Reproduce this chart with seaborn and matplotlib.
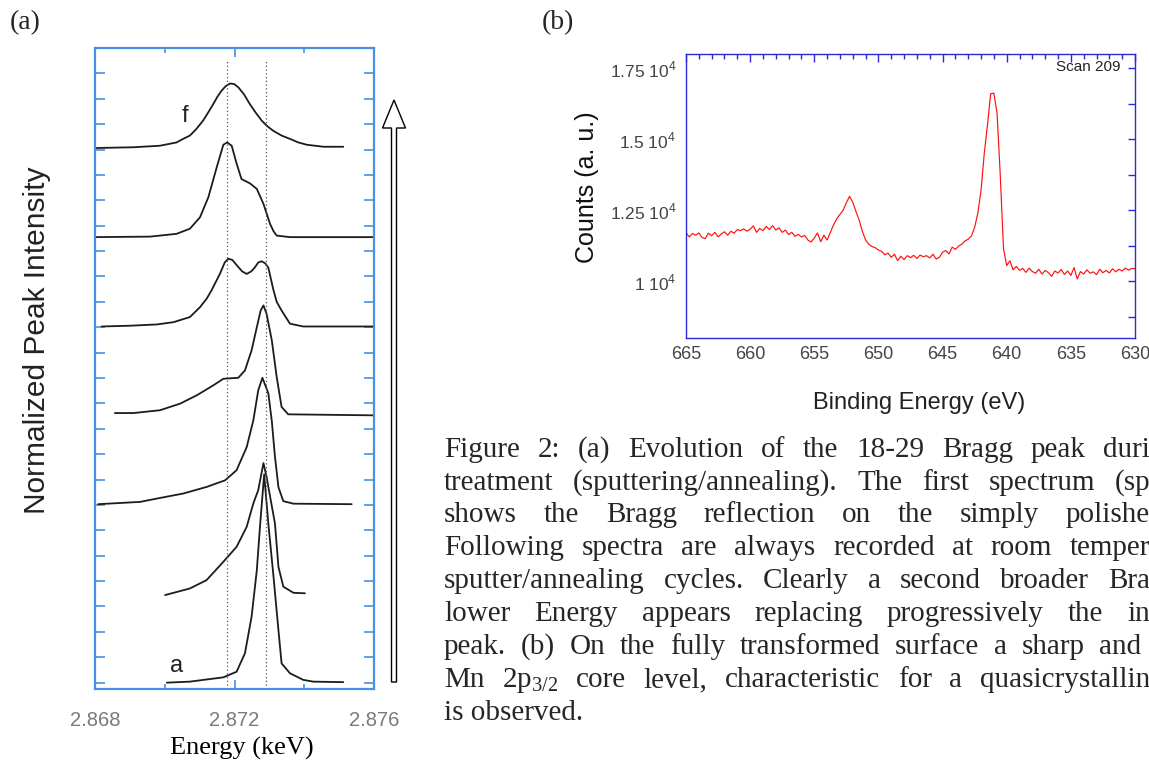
import numpy as np
import pandas as pd
import seaborn as sns
import matplotlib.pyplot as plt
from matplotlib.patches import FancyArrow
from matplotlib.ticker import MultipleLocator

# ---- panel (a): 18-29 Bragg peak, spectra stacked from a (bottom) to f (top)
a_energy = [2.87006, 2.87072, 2.87168, 2.87206, 2.8723, 2.87249, 2.87264, 2.87273, 2.87285,
            2.87297, 2.87311, 2.87326, 2.87335, 2.87359, 2.87397, 2.87426, 2.87512]
a_int = [0.0, 0.04, 0.21, 0.43, 1.16, 2.6, 4.43, 6.14, 8.2, 6.27, 4.3, 2.07, 0.76, 0.37, 0.11, 0.04, 0.02]

b_energy = [2.87001, 2.87072, 2.8712, 2.87168, 2.87206, 2.87235, 2.87254, 2.87268, 2.87283,
            2.87292, 2.87316, 2.87326, 2.8734, 2.87369, 2.87402]
b_int = [3.45, 3.71, 4.04, 4.76, 5.35, 6.14, 7.06, 7.58, 8.65, 8.1, 6.27, 4.56, 3.78, 3.54, 3.52]

c_energy = [2.86809, 2.86929, 2.86977, 2.87053, 2.8712, 2.87173, 2.87206, 2.87235, 2.87254, 2.87268,
            2.8728, 2.87297, 2.87307, 2.87316, 2.87326, 2.8734, 2.87369, 2.87536]
c_int = [7.03, 7.12, 7.25, 7.45, 7.71, 7.97, 8.37, 9.28, 10.33, 11.51, 12.01, 11.4, 10.3, 8.9, 7.7,
         7.15, 7.05, 7.03]

d_energy = [2.86857, 2.8691, 2.86986, 2.87044, 2.87092, 2.87139, 2.87168, 2.87211, 2.8723, 2.87249,
            2.87264, 2.87275, 2.87283, 2.87292, 2.87307, 2.87321, 2.87335, 2.87354, 2.87598]
d_int = [10.62, 10.62, 10.73, 10.99, 11.32, 11.71, 11.97, 12.01, 12.3, 13.09, 14.0, 14.66, 14.86,
         14.53, 13.48, 12.04, 10.86, 10.57, 10.53]

e_energy = [2.86819, 2.869, 2.86977, 2.87025, 2.87072, 2.87101, 2.8712, 2.87134, 2.87158, 2.87172,
            2.87182, 2.87194, 2.87206, 2.87222, 2.87235, 2.87248, 2.87258, 2.87268, 2.87278, 2.87288,
            2.87297, 2.87311, 2.87321, 2.87335, 2.87359, 2.87397, 2.87598]
e_int = [14.03, 14.06, 14.11, 14.2, 14.4, 14.79, 15.12, 15.45, 16.1, 16.55, 16.7, 16.65, 16.45, 16.2,
         16.1, 16.2, 16.35, 16.55, 16.6, 16.52, 16.35, 15.5, 15.0, 14.66, 14.14, 14.03, 14.03]

e2_energy = [2.868, 2.86958, 2.87034, 2.87072, 2.87101, 2.87125, 2.87149, 2.87168, 2.87179, 2.87192,
             2.87206, 2.8722, 2.87244, 2.87264, 2.87283, 2.87302, 2.87312, 2.87321, 2.87359, 2.87598]
e2_int = [17.55, 17.57, 17.68, 17.88, 18.33, 19.12, 20.3, 21.19, 21.28, 21.15, 20.45, 19.84, 19.67,
          19.45, 18.86, 18.07, 17.78, 17.61, 17.55, 17.55]

f_energy = [2.868, 2.8691, 2.86986, 2.87034, 2.8705, 2.87072, 2.8709, 2.8711, 2.87125, 2.87139,
            2.87151, 2.87163, 2.87175, 2.87187, 2.87199, 2.87211, 2.87227, 2.87244, 2.87261, 2.87278,
            2.87294, 2.87311, 2.87335, 2.87359, 2.87383, 2.87407, 2.87455, 2.87512]
f_int = [21.06, 21.09, 21.15, 21.28, 21.4, 21.55, 21.8, 22.14, 22.47, 22.79, 23.08, 23.32, 23.5, 23.6,
         23.58, 23.45, 23.18, 22.79, 22.45, 22.14, 21.92, 21.74, 21.55, 21.42, 21.28, 21.19, 21.11, 21.11]

ref_energies = [2.87178, 2.8729]

# ---- panel (b): Mn 2p XPS, 0.25 eV channels from 665 eV downwards
be_start, be_step = 665.0, -0.25
counts = [
    11710,
    11560, 11680, 11620, 11700,
    11540, 11500, 11690, 11600,
    11720, 11560, 11660, 11740,
    11620, 11760, 11690, 11820,
    11780, 11840, 11760, 11830,
    11950, 11720, 11860, 11780,
    11930, 11820, 11960, 11800,
    11880, 11720, 11800, 11640,
    11720, 11580, 11650, 11560,
    11610, 11450, 11380, 11520,
    11700, 11390, 11620, 11450,
    11720, 11980, 12200, 12350,
    12500, 12760, 12990, 12780,
    12450, 12150, 11750, 11450,
    11300, 11220, 11180, 11100,
    11050, 10930, 10990, 10840,
    10950, 10720, 10880, 10760,
    10900, 10830, 10910, 10800,
    10920, 10860, 10900, 10820,
    10950, 10780, 10840, 11020,
    11080, 10960, 11200, 11120,
    11240, 11300, 11420, 11480,
    11590, 11900, 12400, 13200,
    14500, 15500, 16600, 16620,
    15900, 13700, 11150, 10550,
    10720, 10400, 10520, 10380,
    10450, 10310, 10460, 10340,
    10280, 10420, 10250, 10380,
    10300, 10170, 10360, 10290,
    10410, 10240, 10360, 10200,
    10480, 10080, 10340, 10250,
    10400, 10280, 10330, 10230,
    10420, 10300, 10380, 10290,
    10440, 10330, 10420, 10360,
    10460, 10390, 10450, 10440,
]
ytick_vals = [10000, 12500, 15000, 17500]
ytick_text = ['1', '1.25', '1.5', '1.75']

# caption as visible in the (cropped) original
caption_lines = [
    "Figure 2: (a) Evolution of the 18-29 Bragg peak duri",
    "treatment (sputtering/annealing). The first spectrum (sp",
    "shows the Bragg reflection on the simply polishe",
    "Following spectra are always recorded at room temper",
    "sputter/annealing cycles. Clearly a second broader Bra",
    "lower Energy appears replacing progressively the in",
    "peak. (b) On the fully transformed surface a sharp and",
    r"Mn 2p$_{\mathrm{3/2}}$ core level, characteristic for a quasicrystallin",
    "is observed.",
]
# pixel x where each justified line ends (None = last line, left aligned)
caption_right_x = [1150, 1150, 1150, 1150, 1150, 1150, 1141, 1150, None]

# ------------------------------------------------------------------
sns.set_theme(style='white')
plt.rcParams['font.family'] = ['Liberation Sans', 'DejaVu Sans']
plt.rcParams['mathtext.fontset'] = 'custom'
plt.rcParams['mathtext.rm'] = 'Liberation Serif'
plt.rcParams['mathtext.sf'] = 'Liberation Sans'

W, H = 1149, 763
fig = plt.figure(figsize=(W / 100, H / 100), dpi=100)
fig.patch.set_facecolor('white')


def box(x0, y0, x1, y1):
    return [x0 / W, 1 - y1 / H, (x1 - x0) / W, (y1 - y0) / H]


# ---------------- panel (a)
ax_a = fig.add_axes(box(95, 48, 374, 689))
spectra = {'a': (a_energy, a_int), 'b': (b_energy, b_int), 'c': (c_energy, c_int),
           'd': (d_energy, d_int), 'e': (e_energy, e_int), 'e2': (e2_energy, e2_int),
           'f': (f_energy, f_int)}
df_a = pd.concat([pd.DataFrame({'energy': en, 'intensity': it, 'spectrum': k})
                  for k, (en, it) in spectra.items()], ignore_index=True)
sns.lineplot(data=df_a, x='energy', y='intensity', units='spectrum', estimator=None, sort=False,
             color='#1c1c1c', linewidth=1.3, ax=ax_a)
for e0 in ref_energies:
    ax_a.axvline(e0, ymin=0, ymax=0.981, color='#555555', linestyle=(0, (1, 2)), linewidth=0.9)

ax_a.set_xlim(2.868, 2.876)
ax_a.set_ylim(-0.25, 25)
ax_a.set_xticks([2.868, 2.872, 2.876], ['2.868', '2.872', '2.876'])
ax_a.set_xticks([2.870, 2.874], minor=True)
ax_a.set_yticks(range(25), [''] * 25)
blue_a = '#4a8fe6'
for s in ax_a.spines.values():
    s.set_color(blue_a)
    s.set_linewidth(1.6)
ax_a.tick_params(axis='x', which='both', direction='in', top=True, bottom=True, color=blue_a,
                 labelcolor='#7a7a7a', labelsize=14.5, pad=16)
ax_a.tick_params(axis='x', which='major', length=6.5, width=1.2)
ax_a.tick_params(axis='x', which='minor', length=3.5, width=1.2)
ax_a.tick_params(axis='y', which='major', direction='in', left=True, right=True, color=blue_a,
                 length=7, width=1.2)
ax_a.set_xlabel('Energy (keV)', family='Liberation Serif', fontsize=19, color='black', va='center')
ax_a.xaxis.set_label_coords(0.527, -0.092)
ax_a.set_ylabel('Normalized Peak Intensity', fontsize=21.5, color='#222222', va='center')
ax_a.yaxis.set_label_coords(-0.207, 0.544)
ax_a.text(2.87058, 22.33, 'f', fontsize=17, ha='center', va='center', color='#222222')
ax_a.text(2.87034, 0.65, 'a', fontsize=17, ha='center', va='center', color='#222222')

fig.add_artist(FancyArrow(394 / W, 1 - 682 / H, 0, (682 - 100) / H, width=5 / W,
                          head_width=23 / W, head_length=28 / H, length_includes_head=True,
                          transform=fig.transFigure, facecolor='white', edgecolor='black',
                          linewidth=1.0))

fig.text(10 / W, 1 - 23 / H, '(a)', family='Liberation Serif', fontsize=20, va='center', ha='left')
fig.text(542 / W, 1 - 23 / H, '(b)', family='Liberation Serif', fontsize=20, va='center', ha='left')

# ---------------- panel (b)
ax_b = fig.add_axes(box(686, 54, 1135, 338))
be = be_start + be_step * np.arange(len(counts))
df_b = pd.DataFrame({'binding': be, 'counts': counts})
sns.lineplot(data=df_b, x='binding', y='counts', estimator=None, sort=False, color='#ff1010',
             linewidth=0.85, ax=ax_b)
ax_b.set_xlim(665, 630)
ax_b.set_ylim(8000, 18000)
ax_b.xaxis.set_major_locator(MultipleLocator(5))
ax_b.xaxis.set_minor_locator(MultipleLocator(1))
ax_b.set_yticks(ytick_vals, [t + r' 10$^{\mathsf{4}}$' for t in ytick_text])
ax_b.set_yticks([8750, 11250, 13750, 16250], minor=True)
blue_b = '#2a2ad8'
for s in ax_b.spines.values():
    s.set_color(blue_b)
    s.set_linewidth(1.0)
ax_b.tick_params(which='both', direction='in', top=True, right=True, color=blue_b,
                 labelcolor='#444444', width=1.0)
ax_b.tick_params(axis='x', which='major', length=5.5, labelsize=13, pad=6)
ax_b.tick_params(axis='x', which='minor', length=3.5)
ax_b.tick_params(axis='y', which='both', length=5, labelsize=12.5, pad=7)
ax_b.set_xlabel('Binding Energy (eV)', fontsize=17, color='#222222', va='center')
ax_b.xaxis.set_label_coords(0.519, -0.229)
ax_b.set_ylabel('Counts (a. u.)', fontsize=18, color='#111111', va='center')
ax_b.yaxis.set_label_coords(-0.22, 0.53)
ax_b.text(0.967, 0.953, 'Scan 209', transform=ax_b.transAxes, fontsize=11, ha='right',
          va='center', color='#222222')

# ---------------- caption, justified like the original
renderer = fig.canvas.get_renderer()
cap_x0, cap_base0, cap_dy, cap_size = 444, 456.7, 32.9, 21
for i, (line, x_end) in enumerate(zip(caption_lines, caption_right_x)):
    y = 1 - (cap_base0 + i * cap_dy) / H
    if x_end is None:
        fig.text(cap_x0 / W, y, line, family='Liberation Serif', fontsize=cap_size, va='baseline')
        continue
    words = line.split(' ')
    texts = [fig.text(0, y, w, family='Liberation Serif', fontsize=cap_size, va='baseline')
             for w in words]
    widths = [t.get_window_extent(renderer).width for t in texts]
    gap = (x_end - cap_x0 - sum(widths)) / (len(words) - 1)
    x = cap_x0
    for t, wd in zip(texts, widths):
        t.set_x(x / W)
        x += wd + gap

fig.savefig('out.png', dpi=100)
